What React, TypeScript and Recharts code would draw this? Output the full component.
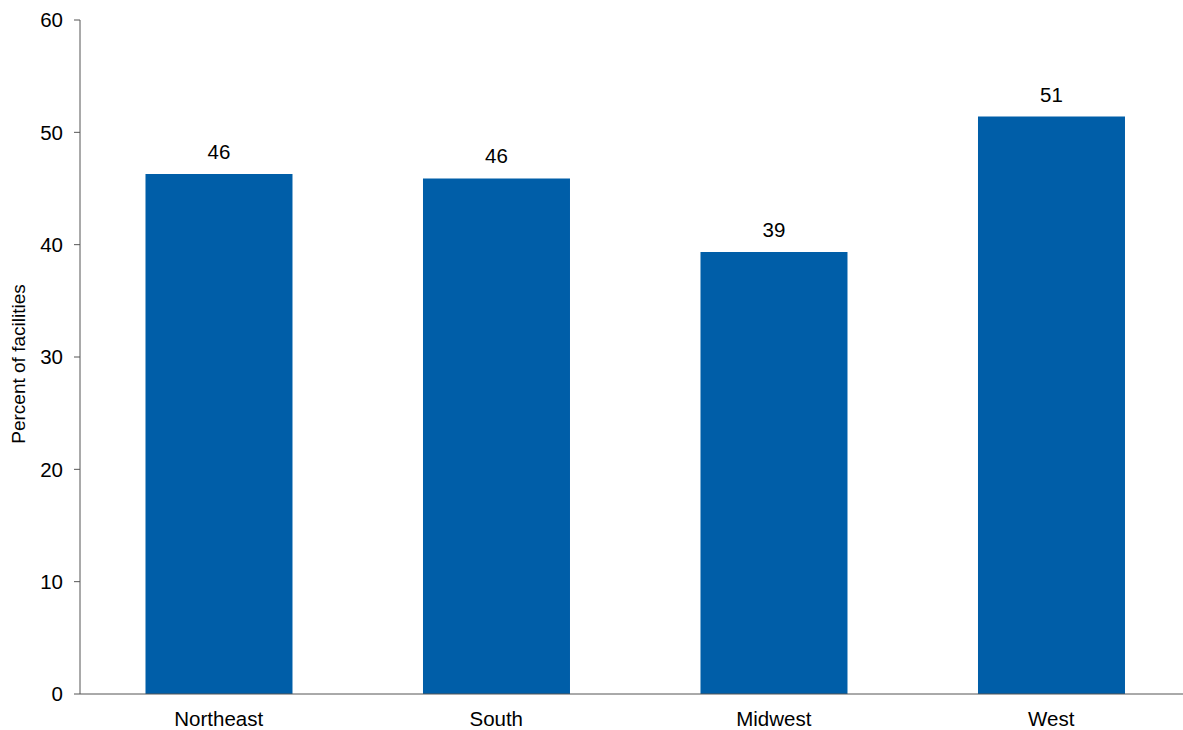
import { Bar, BarChart, LabelList, XAxis, YAxis } from 'recharts';

const regions = ['Northeast', 'South', 'Midwest', 'West'];
const percents = [46.3, 45.9, 39.35, 51.4];
const yTicks = [0, 10, 20, 30, 40, 50, 60];

const data = regions.map((region, i) => ({ region, percent: percents[i] }));

const font = { fontFamily: '"Liberation Sans", Arial, sans-serif', fontSize: 20.5, fill: '#000' };

export default function App() {
  // fixed frame so the axis can run past the right edge without scrollbars
  return (
    <div style={{ position: 'fixed', top: 0, left: 0, width: 1183, height: 730, overflow: 'hidden', background: '#fff' }}>
      <BarChart
        width={1190}
        height={730}
        data={data}
        margin={{ top: 20, right: 0, bottom: 0, left: 0 }}
        barCategoryGap="23.6%"
      >
        <XAxis
          dataKey="region"
          tickLine={false}
          tickMargin={11}
          height={36}
          stroke="#555"
          tick={font}
        />
        <YAxis
          domain={[0, 60]}
          ticks={yTicks}
          width={80}
          tickSize={6}
          tickMargin={11}
          stroke="#555"
          tick={font}
          label={(props: any) => {
            const vb = props.viewBox || { x: 0, y: 20, width: 80, height: 674 };
            const cx = vb.x + 18;
            const cy = vb.y + vb.height / 2 + 7;
            return (
              <text
                x={cx}
                y={cy}
                transform={`rotate(-90 ${cx} ${cy})`}
                textAnchor="middle"
                dominantBaseline="central"
                style={{ fontFamily: '"Liberation Sans", Arial, sans-serif', fontSize: 19, fill: '#000' }}
              >
                Percent of facilities
              </text>
            );
          }}
        />
        <Bar dataKey="percent" fill="#005EA8" isAnimationActive={false}>
          <LabelList
            dataKey="percent"
            position="top"
            offset={15}
            formatter={(v: any) => Math.round(Number(v))}
            style={font}
          />
        </Bar>
      </BarChart>
    </div>
  );
}
